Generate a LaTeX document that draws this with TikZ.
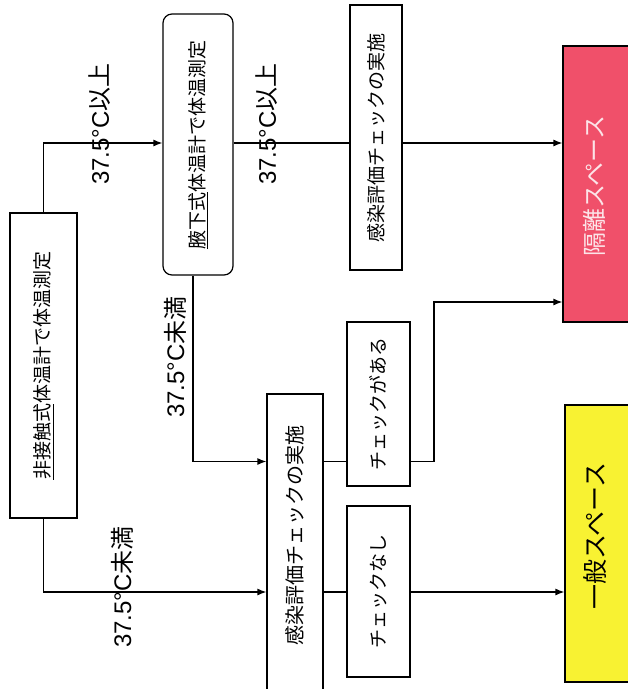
\documentclass[tikz,border=0pt]{standalone}
\usepackage{fontspec}
\usepackage{graphicx}
\setmainfont{Noto Sans CJK JP}
\newfontfamily\latfont{Liberation Sans}
\usetikzlibrary{arrows.meta}
\definecolor{isored}{HTML}{F0506A}
\definecolor{genyellow}{HTML}{F8F232}
\definecolor{isotext}{HTML}{FCE4E8}
\tikzset{
  x=1pt,y=1pt,
  box/.style={draw=black,line width=1.2pt,rectangle,inner sep=0pt,font=\fontsize{19}{19}\selectfont},
  rbox/.style={box,rounded corners=9pt},
  spacebox/.style={draw=black,line width=1.2pt,rectangle,inner sep=0pt},
  conn/.style={line width=1.2pt},
  arr/.style={conn,-{Latex[length=9pt,width=7pt]}},
  lbl/.style={inner sep=0pt,font=\fontsize{24}{24}\selectfont}
}
\newcommand{\rot}[1]{\rotatebox{90}{#1}}
\newcommand{\temp}[1]{{\latfont 37.5°C}#1}
\begin{document}
\begin{tikzpicture}
\useasboundingbox (0,0) rectangle (628,-689);
% boxes
\node[box,minimum width=67pt,minimum height=305pt] (A) at (43.5,-365.5) {\rot{\underline{非接触式}体温計で体温測定}};
\node[rbox,minimum width=70pt,minimum height=261pt] (B) at (198,-144.5) {\rot{\underline{腋下式}体温計で体温測定}};
\node[box,minimum width=52pt,minimum height=265pt] (C) at (376,-137.5) {\rot{感染評価チェックの実施}};
\node[box,minimum width=56pt,minimum height=306pt] (D) at (295,-547) {};
\node[inner sep=0pt,font=\fontsize{20}{20}\selectfont] (Dt) at (295,-535) {\rot{感染評価チェックの実施}};
\node[box,minimum width=63pt,minimum height=164pt] (E) at (378.5,-404) {\rot{チェックがある}};
\node[box,minimum width=63pt,minimum height=171pt] (F) at (378.5,-591.5) {\rot{チェックなし}};
\node[spacebox,fill=isored,minimum width=80pt,minimum height=276pt] (R) at (603,-184) {};
\node[inner sep=0pt,text=isotext,font=\fontsize{24}{24}\selectfont] (Rt) at (594,-186) {\rot{隔離スペース}};
\node[spacebox,fill=genyellow,minimum width=80pt,minimum height=277pt] (Y) at (605,-543.5) {};
\node[inner sep=0pt,font=\fontsize{25}{25}\selectfont] (Yt) at (595,-536) {\rot{一般スペース}};
% connectors
\coordinate (k1) at (0,-143);
\coordinate (k2) at (0,-461.5);
\coordinate (k3) at (0,-592);
\coordinate (k4) at (434,-302);
\draw[arr] (A.north) |- (B.west |- k1);
\draw[conn] (B.east |- k1) -- (C.west |- k1);
\draw[arr] (C.east |- k1) -- (R.west |- k1);
\draw[arr] ([xshift=-5pt]B.south) |- (D.west |- k2);
\draw[arr] (A.south) |- (D.west |- k3);
\draw[conn] (D.east |- k2) -- (E.west |- k2);
\draw[conn] (D.east |- k3) -- (F.west |- k3);
\draw[arr] (E.east |- k2) -| (k4) -- (R.west |- k4);
\draw[arr] (F.east |- k3) -- (Y.west |- k3);
% labels
\node[lbl] (L1) at (100,-124) {\rot{\temp{以上}}};
\node[lbl] (L2) at (267,-124) {\rot{\temp{以上}}};
\node[lbl] (L3) at (175,-357) {\rot{\temp{未満}}};
\node[lbl] (L4) at (122,-587) {\rot{\temp{未満}}};
\end{tikzpicture}
\end{document}
